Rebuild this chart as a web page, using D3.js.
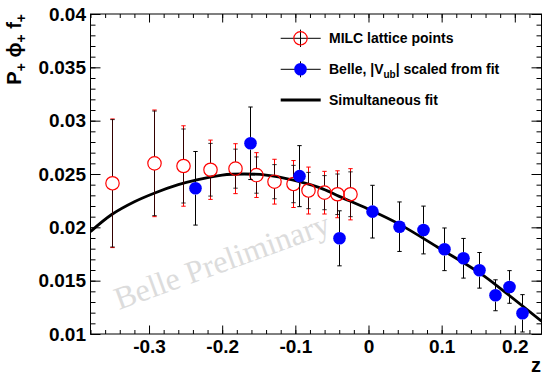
<!DOCTYPE html>
<html><head><meta charset="utf-8">
<script src="https://cdn.jsdelivr.net/npm/d3@7"></script>
<style>
html,body{margin:0;padding:0;background:#fff;}
svg text{font-family:"Liberation Sans",Arial,Helvetica,sans-serif;font-weight:bold;}
</style></head>
<body><svg id="c" width="544" height="375"></svg>
<script>
// ---- data ----
const milcZ = [-0.351,-0.293,-0.253,-0.2166,-0.182,-0.1543,-0.129,-0.1036,-0.0823,-0.0606,-0.0424,-0.0251];
const milcF = [0.02413,0.0260,0.02575,0.0254,0.0255,0.0249,0.02428,0.02406,0.02345,0.02325,0.0231,0.0231];
const milcErrTot  = [0.00603,0.0050,0.00377,0.00278,0.00234,0.0021,0.0021,0.0022,0.0022,0.0020,0.0022,0.0024];
const milcErrStat = [0.00597,0.0049,0.00347,0.00247,0.00183,0.0017,0.0016,0.00175,0.0017,0.0016,0.0019,0.0021];

const belleZ = [-0.2375,-0.1613,-0.0948,-0.0401,0.0046,0.0418,0.0739,0.1032,0.1287,0.151,0.1725,0.1916,0.2094];
const belleF = [0.02366,0.02788,0.0248,0.01897,0.02147,0.02006,0.01975,0.01794,0.0171,0.01597,0.01363,0.01441,0.01194];
const belleErr = [0.00345,0.0034,0.00286,0.00258,0.00247,0.00232,0.00224,0.0020,0.00186,0.00167,0.00145,0.00153,0.00175];

const fitZ = [-0.38,-0.351,-0.32,-0.293,-0.26,-0.2375,-0.2,-0.17,-0.14,-0.104,-0.066,-0.04,0,0.042,0.0977,0.1524,0.1889,0.2365];
const fitF = [0.0196,0.0212,0.0224,0.0232,0.0240,0.0244,0.0249,0.0250,0.0249,0.02445,0.0237,0.0229,0.0217,0.0203,0.0180,0.0157,0.0138,0.0112];

const xTicks = [-0.3,-0.2,-0.1,0,0.1,0.2];
const xTickLabels = ["-0.3","-0.2","-0.1","0","0.1","0.2"];
const yTicks = [0.01,0.015,0.02,0.025,0.03,0.035,0.04];
const yTickLabels = ["0.01","0.015","0.02","0.025","0.03","0.035","0.04"];

const legendLabels = ["MILC lattice points","Belle, |V","ub","| scaled from fit","Simultaneous fit"];

// ---- layout ----
const L=90.5, R=541.5, T=14, B=334;
const svg = d3.select("#c");
const x = d3.scaleLinear().domain([-0.38,0.2365]).range([L,R]);
const y = d3.scaleLinear().domain([0.01,0.04]).range([B,T]);

// frame
svg.append("rect").attr("x",L).attr("y",T).attr("width",R-L).attr("height",B-T)
  .attr("fill","none").attr("stroke","#000").attr("stroke-width",1);

const xMinor = d3.range(-0.38,0.2366,0.02).map(v=>Math.round(v*100)/100).filter(v=>v>=-0.38&&v<=0.2365);
const yMinor = d3.range(0.01,0.0401,0.001).map(v=>Math.round(v*1000)/1000);

function styleAxis(g){ g.select(".domain").remove(); g.selectAll("line").attr("stroke","#000"); }

// bottom
svg.append("g").attr("transform",`translate(0,${B})`)
  .call(d3.axisBottom(x).tickValues(xMinor).tickSize(-4).tickFormat(""))
  .call(styleAxis);
svg.append("g").attr("transform",`translate(0,${B})`)
  .call(d3.axisBottom(x).tickValues(xTicks).tickSize(-8.5).tickPadding(6)
        .tickFormat((d,i)=>xTickLabels[i]))
  .call(styleAxis)
  .selectAll("text").attr("font-size",19).attr("fill","#000")
  .style("font-family","'Liberation Sans',Arial,sans-serif").style("font-weight","bold");
// top
svg.append("g").attr("transform",`translate(0,${T})`)
  .call(d3.axisTop(x).tickValues(xMinor).tickSize(-4).tickFormat("")).call(styleAxis);
svg.append("g").attr("transform",`translate(0,${T})`)
  .call(d3.axisTop(x).tickValues(xTicks).tickSize(-8.5).tickFormat("")).call(styleAxis);
// left
svg.append("g").attr("transform",`translate(${L},0)`)
  .call(d3.axisLeft(y).tickValues(yMinor).tickSize(-5).tickFormat("")).call(styleAxis);
svg.append("g").attr("transform",`translate(${L},0)`)
  .call(d3.axisLeft(y).tickValues(yTicks).tickSize(-10).tickPadding(4.5)
        .tickFormat((d,i)=>yTickLabels[i]))
  .call(styleAxis)
  .selectAll("text").attr("font-size",19).attr("fill","#000")
  .style("font-family","'Liberation Sans',Arial,sans-serif").style("font-weight","bold");
// right
svg.append("g").attr("transform",`translate(${R},0)`)
  .call(d3.axisRight(y).tickValues(yMinor).tickSize(-5).tickFormat("")).call(styleAxis);
svg.append("g").attr("transform",`translate(${R},0)`)
  .call(d3.axisRight(y).tickValues(yTicks).tickSize(-10).tickFormat("")).call(styleAxis);

// watermark
svg.append("text").attr("transform","translate(119,310) rotate(-20)")
  .attr("font-size",32).attr("fill","#dcdcdc")
  .style("font-family","'Liberation Serif','Times New Roman',serif").style("font-weight","normal")
  .text("Belle Preliminary");

// axis titles
svg.append("text").attr("x",541).attr("y",372).attr("text-anchor","end")
  .attr("font-size",20).text("z");
const yt = svg.append("text").attr("transform","translate(21,14) rotate(-90)")
  .attr("text-anchor","end").attr("font-size",20);
yt.append("tspan").text("P");
yt.append("tspan").attr("font-size",14).attr("dy",5).text("+");
yt.append("tspan").attr("dy",-5).text(" \u03D5");
yt.append("tspan").attr("font-size",14).attr("dy",5).text("+");
yt.append("tspan").attr("dy",-5).text(" f");
yt.append("tspan").attr("font-size",14).attr("dy",5).text("+");

// fit curve
const fitData = fitZ.map((z,i)=>[z,fitF[i]]);
svg.append("clipPath").attr("id","clipf").append("rect")
  .attr("x",L).attr("y",T).attr("width",R-L).attr("height",B-T);
svg.append("path").datum(fitData).attr("clip-path","url(#clipf)")
  .attr("d",d3.line().x(d=>x(d[0])).y(d=>y(d[1])).curve(d3.curveCatmullRom.alpha(0.5)))
  .attr("fill","none").attr("stroke","#000").attr("stroke-width",2.8);

// error bars & markers
const rM = 6.7, rB = 6.3, cap = 2.2;
function errBar(g, cx, cy, yTop, yBot, r, color, op){
  const gg = g.append("g").attr("stroke",color).attr("stroke-width",1).attr("opacity",op);
  if (yTop < cy - r) gg.append("line").attr("x1",cx).attr("x2",cx).attr("y1",yTop).attr("y2",cy-r);
  if (yBot > cy + r) gg.append("line").attr("x1",cx).attr("x2",cx).attr("y1",cy+r).attr("y2",yBot);
  gg.append("line").attr("x1",cx-cap).attr("x2",cx+cap).attr("y1",yTop).attr("y2",yTop);
  gg.append("line").attr("x1",cx-cap).attr("x2",cx+cap).attr("y1",yBot).attr("y2",yBot);
}
const gm = svg.append("g");
milcZ.forEach((z,i)=>{
  const cx = Math.round(x(z))+0.5, cy = y(milcF[i]);
  errBar(gm, cx, cy, y(milcF[i]+milcErrTot[i]), y(milcF[i]-milcErrTot[i]), rM, "#ff0000", 1);
  errBar(gm, cx, cy, y(milcF[i]+milcErrStat[i]), y(milcF[i]-milcErrStat[i]), rM, "#000", 0.8);
  gm.append("circle").attr("cx",cx).attr("cy",cy).attr("r",rM)
    .attr("fill","none").attr("stroke","#ff0000").attr("stroke-width",1.2);
});
const gb = svg.append("g");
belleZ.forEach((z,i)=>{
  const cx = Math.round(x(z))+0.5, cy = y(belleF[i]);
  errBar(gb, cx, cy, y(belleF[i]+belleErr[i]), y(belleF[i]-belleErr[i]), rB, "#000", 1);
  gb.append("circle").attr("cx",cx).attr("cy",cy).attr("r",rB).attr("fill","#0000ff");
});

// legend
const lg = svg.append("g");
const lx1 = 280.7, lx2 = 320.7, lmx = 300.5, ltx = 329;
const rows = [38.3, 69.3, 100];
lg.append("line").attr("x1",lx1).attr("x2",lx2).attr("y1",rows[0]).attr("y2",rows[0]).attr("stroke","#000");
lg.append("line").attr("x1",lmx).attr("x2",lmx).attr("y1",rows[0]-8.7).attr("y2",rows[0]+8.7).attr("stroke","#000");
lg.append("circle").attr("cx",lmx).attr("cy",rows[0]).attr("r",rM).attr("fill","none").attr("stroke","#ff0000").attr("stroke-width",1.2);
lg.append("text").attr("x",ltx).attr("y",rows[0]).attr("dy","0.36em").attr("font-size",14).text(legendLabels[0]);
lg.append("line").attr("x1",lx1).attr("x2",lx2).attr("y1",rows[1]).attr("y2",rows[1]).attr("stroke","#000");
lg.append("line").attr("x1",lmx).attr("x2",lmx).attr("y1",rows[1]-8).attr("y2",rows[1]+8).attr("stroke","#000");
lg.append("circle").attr("cx",lmx).attr("cy",rows[1]).attr("r",rB).attr("fill","#0000ff");
const t2 = lg.append("text").attr("x",ltx).attr("y",rows[1]).attr("dy","0.36em").attr("font-size",14);
t2.append("tspan").text(legendLabels[1]);
t2.append("tspan").attr("font-size",10).attr("dy",4).text(legendLabels[2]);
t2.append("tspan").attr("dy",-4).text(legendLabels[3]);
lg.append("line").attr("x1",lx1).attr("x2",lx2).attr("y1",rows[2]).attr("y2",rows[2]).attr("stroke","#000").attr("stroke-width",2.8);
lg.append("text").attr("x",ltx).attr("y",rows[2]).attr("dy","0.36em").attr("font-size",14).text(legendLabels[4]);
</script></body></html>
